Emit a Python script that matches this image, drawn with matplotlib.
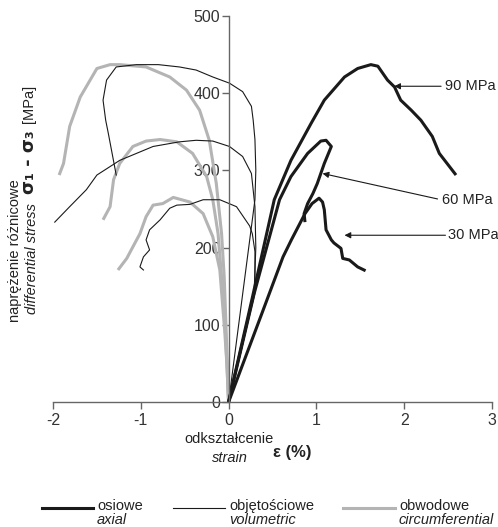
import matplotlib
matplotlib.use('Agg')
import matplotlib.pyplot as plt
from matplotlib.lines import Line2D

plt.rcParams['font.family'] = ['Liberation Sans', 'DejaVu Sans']
plt.rcParams['axes.unicode_minus'] = False

# axial strain (osiowe) - x, stress
ax90_x = [0, 0.27, 0.52, 0.71, 0.94, 1.09, 1.32, 1.47, 1.62, 1.70, 1.81, 1.89, 1.96, 2.08, 2.19, 2.32, 2.40, 2.59]
ax90_y = [0, 135, 262, 313, 361, 391, 421, 432, 437, 435, 417, 408, 391, 378, 365, 344, 322, 294]
ax60_x = [0, 0.29, 0.58, 0.71, 0.90, 1.05, 1.11, 1.17, 1.09, 1.05, 1.01, 0.96, 0.90, 0.86, 0.87]
ax60_y = [0, 140, 262, 292, 322, 338, 339, 331, 309, 296, 283, 270, 257, 244, 233]
ax30_x = [0, 0.38, 0.62, 0.715, 0.87, 0.95, 1.03, 1.07, 1.09, 1.11, 1.17, 1.20, 1.28, 1.30, 1.375, 1.47, 1.56]
ax30_y = [0, 115, 188, 210, 244, 257, 264, 259, 249, 223, 210, 206, 199, 186, 184, 175, 170]

# volumetric strain (objetosciowe)
vol90_x = [0, 0.15, 0.30, 0.31, 0.30, 0.28, 0.26, 0.16, 0.01, -0.18, -0.37, -0.56, -0.80, -1.05, -1.28, -1.39, -1.43, -1.40, -1.37, -1.28]
vol90_y = [0, 131, 262, 300, 340, 365, 383, 402, 413, 421, 430, 434, 437, 437, 434, 417, 391, 365, 348, 294]
vol60_x = [0, 0.15, 0.29, 0.31, 0.30, 0.26, 0.16, 0.01, -0.18, -0.37, -0.56, -0.86, -1.24, -1.50, -1.62, -1.81, -1.98]
vol60_y = [0, 70, 140, 200, 253, 296, 318, 331, 338, 339, 337, 331, 313, 294, 275, 253, 233]
vol30_x = [0, 0.15, 0.30, 0.30, 0.27, 0.24, 0.09, -0.10, -0.29, -0.44, -0.59, -0.67, -0.78, -0.90, -0.94, -0.90, -0.97, -1.01, -0.97]
vol30_y = [0, 70, 141, 195, 218, 228, 253, 262, 262, 256, 255, 251, 236, 223, 210, 197, 188, 175, 171]

# circumferential strain (obwodowe)
cir90_x = [0, -0.015, -0.03, -0.05, -0.08, -0.14, -0.22, -0.33, -0.48, -0.67, -0.94, -1.24, -1.35, -1.50, -1.69, -1.81, -1.88, -1.93]
cir90_y = [0, 50, 100, 162, 218, 283, 339, 378, 404, 421, 434, 437, 437, 432, 395, 357, 309, 294]
cir60_x = [0, -0.02, -0.04, -0.08, -0.12, -0.18, -0.25, -0.41, -0.59, -0.78, -0.94, -1.09, -1.24, -1.31, -1.35, -1.43]
cir60_y = [0, 50, 100, 162, 218, 262, 292, 322, 337, 340, 338, 331, 309, 288, 253, 236]
cir30_x = [0, -0.02, -0.045, -0.10, -0.18, -0.29, -0.44, -0.63, -0.75, -0.86, -0.94, -1.01, -1.09, -1.16, -1.26]
cir30_y = [0, 50, 93, 171, 214, 244, 259, 265, 257, 255, 240, 218, 201, 186, 171]

xticks = [-2, -1, 0, 1, 2, 3]
yticks = [0, 100, 200, 300, 400, 500]

W, H = 498, 527
fig = plt.figure(figsize=(W / 100, H / 100), dpi=100)
ax = fig.add_axes([53 / W, 1 - 402 / H, (492 - 53) / W, (402 - 16) / H])

black = '#1a1a1a'
gray = '#b4b4b4'

for xs, ys in [(cir90_x, cir90_y), (cir60_x, cir60_y), (cir30_x, cir30_y)]:
    ax.plot(xs, ys, color=gray, lw=2.2, solid_joinstyle='round', solid_capstyle='butt')
for xs, ys in [(vol90_x, vol90_y), (vol60_x, vol60_y), (vol30_x, vol30_y)]:
    ax.plot(xs, ys, color=black, lw=0.8)
for xs, ys in [(ax90_x, ax90_y), (ax60_x, ax60_y), (ax30_x, ax30_y)]:
    ax.plot(xs, ys, color=black, lw=2.2, solid_joinstyle='round', solid_capstyle='butt')

ax.set_xlim(-2, 3)
ax.set_ylim(0, 500)
ax.set_xticks(xticks)
ax.set_yticks(yticks)
ax.spines['left'].set_position(('data', 0))
ax.spines['bottom'].set_position(('data', 0))
ax.spines['top'].set_visible(False)
ax.spines['right'].set_visible(False)
for s in ['left', 'bottom']:
    ax.spines[s].set_color('#666666')
    ax.spines[s].set_linewidth(1.0)
ax.tick_params(axis='both', color='#666666', labelcolor='#333333', labelsize=11.5, width=1.0)
ax.tick_params(axis='y', length=5, pad=1)
ax.tick_params(axis='x', length=5, pad=3)
ax.set_facecolor('none')

fs = 10.5

# pressure labels
arrow = dict(arrowstyle='-|>', lw=0.8, color=black, mutation_scale=9, shrinkA=0, shrinkB=0)
ax.annotate('', xy=(1.886, 409), xytext=(2.42, 409), arrowprops=arrow)
ax.text(2.47, 409, '90 MPa', fontsize=fs, color='#222222', va='center', ha='left')
ax.annotate('', xy=(1.07, 296), xytext=(2.38, 263), arrowprops=arrow)
ax.text(2.43, 262, '60 MPa', fontsize=fs, color='#222222', va='center', ha='left')
ax.annotate('', xy=(1.32, 216), xytext=(2.47, 216), arrowprops=arrow)
ax.text(2.50, 216, '30 MPa', fontsize=fs, color='#222222', va='center', ha='left')


def ft(px, py, s, **kw):
    kw.setdefault('fontsize', fs)
    kw.setdefault('color', '#222222')
    fig.text(px / W, 1 - py / H, s, **kw)


# y label
ft(15, 251, 'naprężenie różnicowe', rotation=90, ha='center', va='center')
ft(32, 259, 'differential stress', rotation=90, ha='center', va='center', style='italic')
ft(29, 162, 'σ₁ - σ₃', rotation=90, ha='center', va='center', fontweight='bold',
   fontsize=13, family=['DejaVu Sans'])
ft(29, 104, '[MPa]', rotation=90, ha='center', va='center')

# x label
ft(229, 439, 'odkształcenie', ha='center', va='center')
ft(230, 458, 'strain', ha='center', va='center', style='italic')
ft(292, 452, 'ε (%)', ha='center', va='center', fontweight='bold', fontsize=12)

# legend
legend_items = [
    (42, 93, black, 2.2, 'osiowe', 'axial'),
    (173, 225, black, 0.8, 'objętościowe', 'volumetric'),
    (343, 395, gray, 2.2, 'obwodowe', 'circumferential'),
]
for x0, x1, c, lw, pl, en in legend_items:
    fig.add_artist(Line2D([x0 / W, x1 / W], [1 - 508 / H, 1 - 508 / H], color=c, lw=lw))
    ft(x1 + 4, 510, pl, ha='left', va='baseline')
    ft(x1 + 4, 524, en, ha='left', va='baseline', style='italic')

fig.savefig('out.png', dpi=100)
